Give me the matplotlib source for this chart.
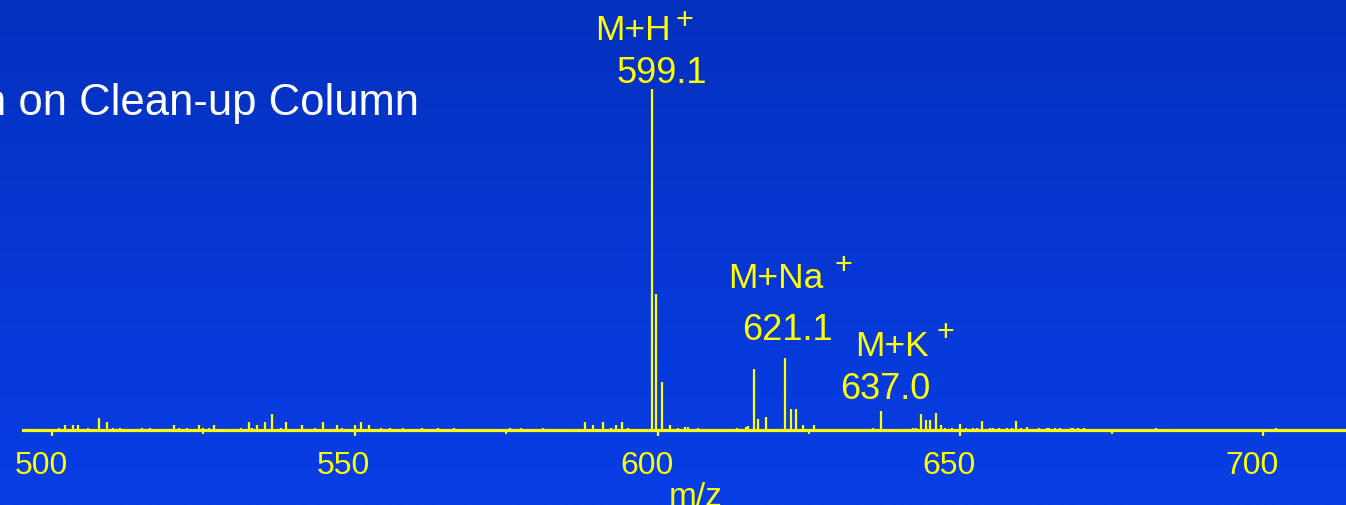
import numpy as np
import matplotlib
matplotlib.use("Agg")
import matplotlib.pyplot as plt
from matplotlib.ticker import MultipleLocator
from matplotlib.transforms import ScaledTranslation

# ---------------- data ----------------
mz = [501.2, 502.1, 503.4, 504.3, 506.0, 507.8, 509.1, 510.0, 511.3, 514.9,
      516.2, 520.1, 521.0, 522.3, 524.2, 524.9, 525.9, 526.8,
      531.2, 532.5, 533.0, 533.8, 535.2, 536.4, 537.8, 538.6, 541.3, 543.5,
      544.8, 547.0, 547.9, 550.1, 551.0, 552.3, 554.4, 555.8, 558.0, 561.1,
      563.8, 566.3,
      575.6, 577.4, 581.0, 588.0, 589.3, 591.0, 592.3, 593.2, 594.2, 595.1,
      599.1, 599.8, 600.7,
      602.1, 603.4, 604.5, 605.0, 606.7,
      613.1, 614.6, 615.0, 615.9, 616.6, 617.9, 619.2,
      621.0, 622.0, 622.8, 624.0, 625.8,
      632.1, 634.1, 635.6, 636.9, 639.2, 640.5, 642.1, 642.7, 643.5, 644.3,
      645.0, 646.0, 646.8, 647.5, 648.6, 649.9, 651.0, 652.0, 652.8, 653.5,
      654.9, 655.4, 656.4, 657.7, 658.6, 659.2, 660.0, 661.0, 663.0, 664.3,
      664.7, 665.6, 666.5, 668.2, 668.6, 669.5, 670.4, 682.3, 702.1]
intensity = [0.7, 1.4, 1.4, 1.4, 0.7, 3.6, 2.2, 0.7, 0.7, 0.7,
             0.7, 1.4, 0.7, 0.7, 1.4, 0.7, 0.7, 1.4,
             0.7, 2.2, 0.7, 1.4, 2.2, 4.6, 0.7, 2.2, 1.4, 0.7,
             2.2, 1.4, 0.7, 1.4, 2.2, 1.4, 0.7, 0.7, 0.7, 0.7,
             0.7, 0.7,
             0.7, 0.7, 0.7, 2.2, 1.4, 2.2, 0.7, 1.4, 2.2, 0.7,
             100.0, 39.9, 14.1,
             1.5, 0.6, 0.9, 0.9, 0.6,
             0.6, 0.9, 1.2, 17.9, 3.2, 3.8, 0.4,
             21.1, 6.2, 6.2, 1.5, 1.5,
             0.4, 0.4, 0.6, 5.6, 0.4, 0.4, 0.6, 0.6, 4.7, 2.9,
             2.9, 5.0, 1.5, 0.6, 0.6, 1.7, 0.7, 0.7, 0.7, 2.5,
             0.7, 0.7, 0.7, 0.7, 0.7, 2.5, 0.5, 1.0, 0.7, 0.7,
             0.5, 0.7, 0.7, 0.7, 0.7, 0.5, 0.7, 0.5, 0.5]
xticks = [500, 550, 600, 650, 700]
xtick_labels = ["500", "550", "600", "650", "700"]
xlabel = "m/z"
title_text = "n on Clean-up Column"
peak_names = ["M+H", "M+Na", "M+K"]
peak_values = ["599.1", "621.1", "637.0"]

# ---------------- figure ----------------
W, H = 1346, 506
YEL = "#FFFF00"
FONT = "Liberation Sans"
fig = plt.figure(figsize=(W / 100, H / 100), dpi=100)

# background gradient
bg = fig.add_axes([0, 0, 1, 1], zorder=-5)
top = np.array([4, 48, 190]) / 255.0
bot = np.array([8, 62, 230]) / 255.0
t = np.linspace(0, 1, 256)[:, None]
grad = top[None, :] * (1 - t) + bot[None, :] * t
bg.imshow(np.repeat(grad[:, None, :], 2, axis=1), aspect="auto",
          extent=[0, 1, 0, 1], origin="upper")
bg.set_axis_off()

PX_PER_MZ = 6.056      # pixels per m/z unit
X500 = 52              # pixel of m/z 500
BASE = 431             # baseline pixel (from top)
PX_PER_PCT = 3.41      # pixels per % intensity

ax = fig.add_axes([0, (H - BASE) / H, 1, BASE / H])
ax.patch.set_alpha(0)
ax.set_xlim(500 - X500 / PX_PER_MZ, 500 + (W - X500) / PX_PER_MZ)
ax.set_ylim(0, BASE / PX_PER_PCT)

ax.vlines(mz, 0, intensity, color=YEL, lw=1.6, zorder=3)

for s in ["top", "left", "right"]:
    ax.spines[s].set_visible(False)
ax.spines["bottom"].set_color(YEL)
ax.spines["bottom"].set_linewidth(2.3)
ax.spines["bottom"].set_bounds(500 - (X500 - 23) / PX_PER_MZ, ax.get_xlim()[1])
ax.spines["bottom"].set_zorder(4)
ax.set_yticks([])
ax.set_xticks(xticks)
ax.set_xticklabels(xtick_labels, fontfamily=FONT, fontsize=23, color=YEL)
ax.xaxis.set_minor_locator(MultipleLocator(25))
ax.tick_params(axis="x", which="major", direction="out", length=4.3,
               width=1.6, color=YEL, pad=10)
ax.tick_params(axis="x", which="minor", direction="out", length=2.6,
               width=1.4, color=YEL)
off = ScaledTranslation(-11 / 100, 0, fig.dpi_scale_trans)
for lab in ax.get_xticklabels():
    lab.set_transform(lab.get_transform() + off)


def fx(px):
    return px / W


def fy(py):
    return 1 - py / H


# axis label (cut at the bottom edge, as in the reference)
fig.text(fx(696), fy(482), xlabel, ha="center", va="top", fontsize=24,
         family=FONT, color=YEL)

# title (partly cut at the left edge, as in the reference)
fig.text(fx(-18), fy(115), title_text, ha="left", va="baseline",
         fontsize=31.4, family=FONT, color="white")

# peak annotations: (name left, name baseline, sup center x, sup center y,
#                    value left, value baseline)
ann_pos = [(595, 40, 684, 21, 616, 83),
           (728, 288, 843, 266, 742, 340),
           (855, 356, 945, 333, 840, 399)]
for name, val, (nx, ny, sx, sy, vx, vy) in zip(peak_names, peak_values, ann_pos):
    fig.text(fx(nx), fy(ny), name, ha="left", va="baseline", fontsize=25.5,
             family=FONT, color=YEL)
    fig.text(fx(sx), fy(sy), "+", ha="center", va="center", fontsize=22,
             family=FONT, color=YEL)
    fig.text(fx(vx), fy(vy), val, ha="left", va="baseline", fontsize=26,
             family=FONT, color=YEL)

fig.savefig("out.png", dpi=100)
